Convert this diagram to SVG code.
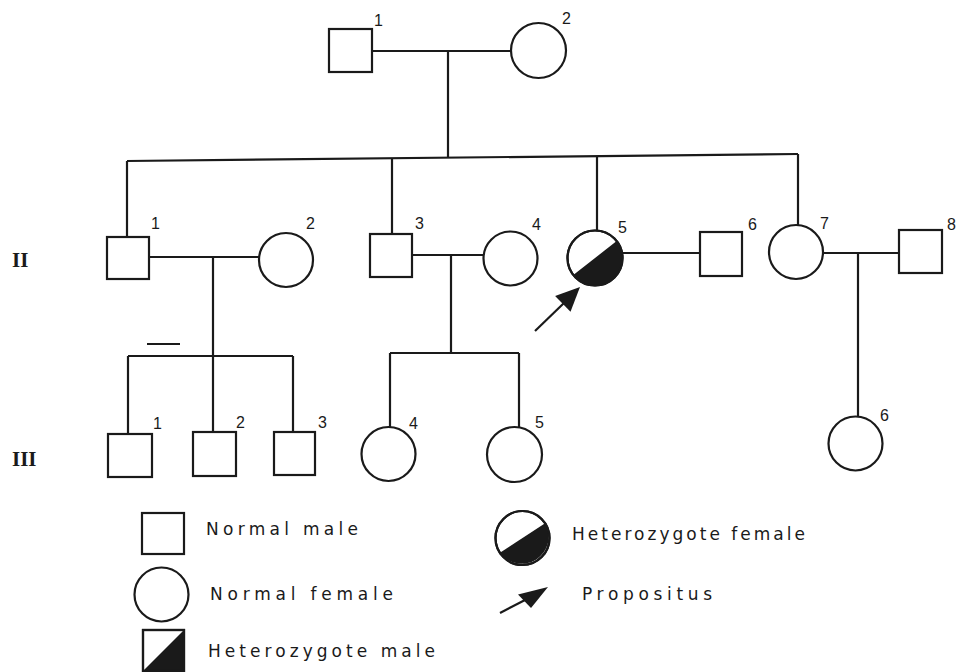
<svg xmlns="http://www.w3.org/2000/svg" width="958" height="672" viewBox="0 0 958 672">
<style>
.sym{fill:#fff;stroke:#1a1a1a;stroke-width:2.2}
.fill{fill:#1a1a1a;stroke:none}
.ln{fill:none;stroke:#1a1a1a;stroke-width:2.2}
.num{font-family:"Liberation Sans",Arial,sans-serif;font-size:16px;fill:#1a1a1a}
.rom{font-family:"Liberation Serif","Times New Roman",serif;font-size:21px;font-weight:bold;fill:#1a1a1a}
.leg{font-family:"DejaVu Sans","Liberation Sans",sans-serif;font-size:17px;fill:#1a1a1a}
</style>
<rect width="958" height="672" fill="#fff"/>
<g id="connectors">
<path class="ln" d="M372 51 H511"/>
<path class="ln" d="M448 51 V157.7"/>
<path class="ln" d="M127 161 L798 154"/>
<path class="ln" d="M127 161 V237"/>
<path class="ln" d="M392 158.2 V234"/>
<path class="ln" d="M597 156.1 V231"/>
<path class="ln" d="M798 154 V225"/>
<path class="ln" d="M149 257 H259"/>
<path class="ln" d="M213 257 V356"/>
<path class="ln" d="M128 356 H293"/>
<path class="ln" d="M128 356 V434"/>
<path class="ln" d="M213 356 V432"/>
<path class="ln" d="M293 356 V432"/>
<path class="ln" d="M412 255 H483"/>
<path class="ln" d="M451 255 V353"/>
<path class="ln" d="M390 353 H519"/>
<path class="ln" d="M390 353 V427"/>
<path class="ln" d="M519 353 V427"/>
<path class="ln" d="M622 253 H700"/>
<path class="ln" d="M823 253 H899"/>
<path class="ln" d="M858 253 V417"/>
<path class="ln" d="M147 344 H180" stroke-width="1.5"/>
</g>
<g id="gen-labels">
<text class="rom" x="12" y="267">II</text>
<text class="rom" x="12" y="466">III</text>
</g>
<g id="I-1"><rect class="sym" x="329" y="29" width="43" height="43"/><text class="num" x="374" y="26">1</text></g>
<g id="I-2"><circle class="sym" cx="538.5" cy="50.5" r="27.5"/><text class="num" x="562" y="24">2</text></g>
<g id="II-1"><rect class="sym" x="107" y="237" width="42" height="42"/><text class="num" x="151" y="229">1</text></g>
<g id="II-2"><circle class="sym" cx="286" cy="260" r="27"/><text class="num" x="306" y="229">2</text></g>
<g id="II-3"><rect class="sym" x="370" y="234" width="42" height="43"/><text class="num" x="415" y="229">3</text></g>
<g id="II-4"><circle class="sym" cx="510.5" cy="258.5" r="27"/><text class="num" x="532" y="230">4</text></g>
<g id="II-5"><circle class="sym" cx="595" cy="258" r="27.5"/><path class="fill" d="M616.7 241.1 A27.5 27.5 0 0 1 573.3 274.9 Z"/><circle cx="595" cy="258" r="27.5" fill="none" stroke="#1a1a1a" stroke-width="2.2"/><text class="num" x="618" y="233">5</text></g>
<g id="II-6"><rect class="sym" x="700" y="232" width="42" height="44"/><text class="num" x="748" y="230">6</text></g>
<g id="II-7"><circle class="sym" cx="796" cy="252" r="27"/><text class="num" x="820" y="229">7</text></g>
<g id="II-8"><rect class="sym" x="899" y="230" width="43" height="43"/><text class="num" x="947" y="230">8</text></g>
<g id="propositus-arrow"><path class="ln" d="M535 331 L564 303"/><polygon class="fill" points="580,287 570.5,311.7 555.1,295.9"/></g>
<g id="III-1"><rect class="sym" x="108" y="434" width="44" height="43"/><text class="num" x="153" y="429">1</text></g>
<g id="III-2"><rect class="sym" x="193" y="432" width="43" height="44"/><text class="num" x="236" y="428">2</text></g>
<g id="III-3"><rect class="sym" x="274" y="432" width="41" height="43"/><text class="num" x="318" y="428">3</text></g>
<g id="III-4"><circle class="sym" cx="388.5" cy="454" r="27"/><text class="num" x="409" y="429">4</text></g>
<g id="III-5"><circle class="sym" cx="514.5" cy="454.5" r="27.5"/><text class="num" x="535" y="428">5</text></g>
<g id="III-6"><circle class="sym" cx="855.5" cy="443.5" r="27"/><text class="num" x="880" y="421">6</text></g>
<g id="legend">
<g id="legend-normal-male"><rect class="sym" x="142" y="513" width="42" height="41"/><text class="leg" x="206" y="535" textLength="152" lengthAdjust="spacing">Normal male</text></g>
<g id="legend-normal-female"><circle class="sym" cx="161.5" cy="594.5" r="27"/><text class="leg" x="210" y="600" textLength="183" lengthAdjust="spacing">Normal female</text></g>
<g id="legend-het-male"><rect class="sym" x="143" y="630" width="41" height="41"/><polygon class="fill" points="184,630 184,671 143,671"/><rect x="143" y="630" width="41" height="41" fill="none" stroke="#1a1a1a" stroke-width="2.2"/><text class="leg" x="208" y="657" textLength="227" lengthAdjust="spacing">Heterozygote male</text></g>
<g id="legend-het-female"><circle class="sym" cx="522.5" cy="538" r="27"/><path class="fill" d="M545.1 523.3 A27 27 0 0 1 499.9 552.7 Z"/><circle cx="522.5" cy="538" r="27" fill="none" stroke="#1a1a1a" stroke-width="2.2"/><text class="leg" x="572" y="540" textLength="233" lengthAdjust="spacing">Heterozygote female</text></g>
<g id="legend-propositus"><path class="ln" d="M500 613 L525 600"/><polygon class="fill" points="548,587 531,608 518,594.5"/><text class="leg" x="582" y="600" textLength="130" lengthAdjust="spacing">Propositus</text></g>
</g>
</svg>
